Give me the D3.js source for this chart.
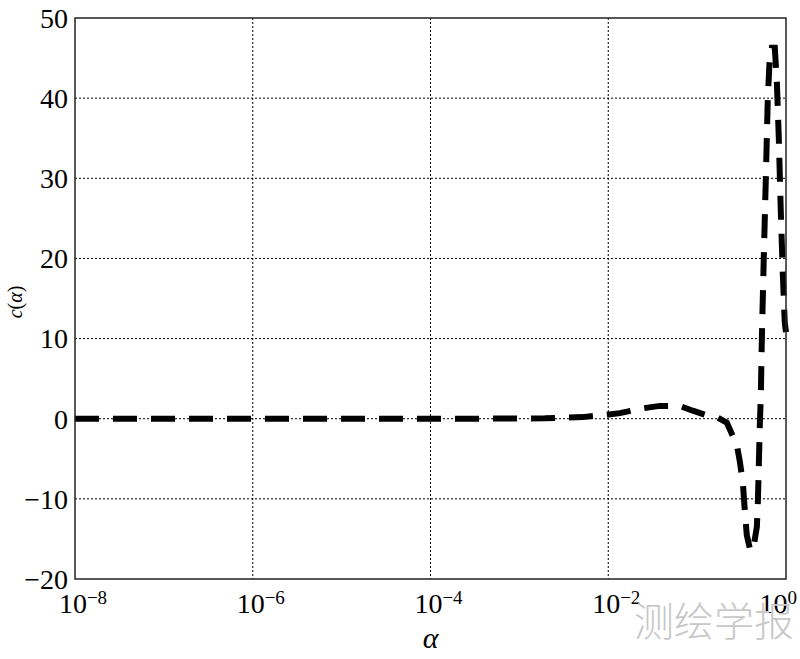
<!DOCTYPE html>
<meta charset="utf-8">
<head>
    <title>c(alpha)</title>
    <script src="https://d3js.org/d3.v7.min.js"></script>
    <style>
        body { margin: 0; background: #fff; }
        svg { display: block; }
    </style>
</head>
<body>
    <svg width="800" height="659"></svg>
    <script>
        // alpha values (log scale) and c(alpha)
        var alphaValues = [1e-8, 1e-7, 1e-6, 1e-5, 1e-4, 1e-3, 0.00194, 0.00518, 0.00964, 0.0135, 0.0245, 0.038, 0.0638, 0.0895,
            0.122, 0.167, 0.216, 0.280, 0.302, 0.327, 0.344, 0.362, 0.392, 0.424, 0.470, 0.482, 0.494, 0.507, 0.521,
            0.535, 0.562, 0.593, 0.624, 0.656, 0.692, 0.748, 0.789, 0.830, 0.873, 0.921, 0.968, 1.0];
        var cValues = [0, 0, 0, 0, 0, 0.02, 0.05, 0.2, 0.5, 0.7, 1.3, 1.6, 1.6, 1.0,
            0.5, 0.2, -0.5, -3.3, -5.3, -8, -11.5, -14.5, -16.2, -16.5, -13.5, -10.5, -6, -1, 3,
            10, 20, 30, 40, 45, 46.3, 46.3, 42, 35, 26, 18, 12, 10.8];

        var xTicks = [1e-8, 1e-6, 1e-4, 1e-2, 1];
        var xTickExp = ["\u22128", "\u22126", "\u22124", "\u22122", "0"];
        var yTicks = [-20, -10, 0, 10, 20, 30, 40, 50];

        var svg = d3.select("svg");
        var margin = { left: 75, top: 18, right: 14, bottom: 80 };
        var width = 800 - margin.left - margin.right,
            height = 659 - margin.top - margin.bottom;

        var x = d3.scaleLog().domain([1e-8, 1]).range([0, width]);
        var y = d3.scaleLinear().domain([-20, 50]).range([height, 0]);

        var serif = "'Liberation Serif', 'Times New Roman', serif";

        var g = svg.append("g")
            .attr("transform", "translate(" + margin.left + "," + margin.top + ")");

        // dotted grid
        g.append("g").selectAll("line")
            .data(xTicks.slice(1, -1))
            .enter().append("line")
            .attr("x1", d => x(d)).attr("x2", d => x(d))
            .attr("y1", 0).attr("y2", height)
            .attr("stroke", "#000").attr("stroke-width", 1)
            .attr("stroke-dasharray", "2,2");

        g.append("g").selectAll("line")
            .data(yTicks.slice(1, -1))
            .enter().append("line")
            .attr("x1", 0).attr("x2", width)
            .attr("y1", d => y(d)).attr("y2", d => y(d))
            .attr("stroke", "#000").attr("stroke-width", 1)
            .attr("stroke-dasharray", "2,2");

        // the curve
        var pts = alphaValues.map((a, i) => [a, cValues[i]]);
        var line = d3.line()
            .x(d => x(d[0]))
            .y(d => y(d[1]));

        g.append("path")
            .datum(pts)
            .attr("d", line)
            .attr("fill", "none")
            .attr("stroke", "#000")
            .attr("stroke-width", 6)
            .attr("stroke-dasharray", "24,14");

        // frame
        g.append("rect")
            .attr("width", width).attr("height", height)
            .attr("fill", "none")
            .attr("stroke", "#222").attr("stroke-width", 1.5);

        // y tick labels
        g.append("g").selectAll("text")
            .data(yTicks)
            .enter().append("text")
            .attr("x", -7)
            .attr("y", d => y(d))
            .attr("dy", "0.35em")
            .attr("text-anchor", "end")
            .style("font-family", serif)
            .style("font-size", "28px")
            .text(d => d < 0 ? "\u2212" + Math.abs(d) : d);

        // x tick labels as 10^n (last one pulled in so it stays on the page)
        var xl = g.append("g").selectAll("text")
            .data(xTicks)
            .enter().append("text")
            .attr("x", (d, i) => i == xTicks.length - 1 ? x(d) + 11 : x(d) + 8)
            .attr("y", height + 34)
            .attr("text-anchor", (d, i) => i == xTicks.length - 1 ? "end" : "middle")
            .style("font-family", serif)
            .style("font-size", "28px");
        xl.append("tspan").text("10");
        xl.append("tspan")
            .attr("dy", "-0.5em")
            .style("font-size", "19px")
            .text((d, i) => xTickExp[i]);

        // axis labels
        svg.append("text")
            .attr("x", margin.left + width / 2)
            .attr("y", 648)
            .attr("text-anchor", "middle")
            .style("font-family", serif)
            .style("font-style", "italic")
            .style("font-size", "30px")
            .text("\u03b1");

        svg.append("text")
            .attr("transform", "translate(22,302) rotate(-90)")
            .attr("text-anchor", "middle")
            .style("font-family", serif)
            .style("font-size", "20px")
            .html("<tspan font-style='italic'>c</tspan>(<tspan font-style='italic'>\u03b1</tspan>)");

        // watermark
        svg.append("text")
            .attr("x", 794)
            .attr("y", 636)
            .attr("text-anchor", "end")
            .style("font-family", "'Noto Sans CJK SC', sans-serif")
            .style("font-weight", 300)
            .style("font-size", "40px")
            .style("fill", "#c8c8c8")
            .text("测绘学报");
    </script>
</body>
